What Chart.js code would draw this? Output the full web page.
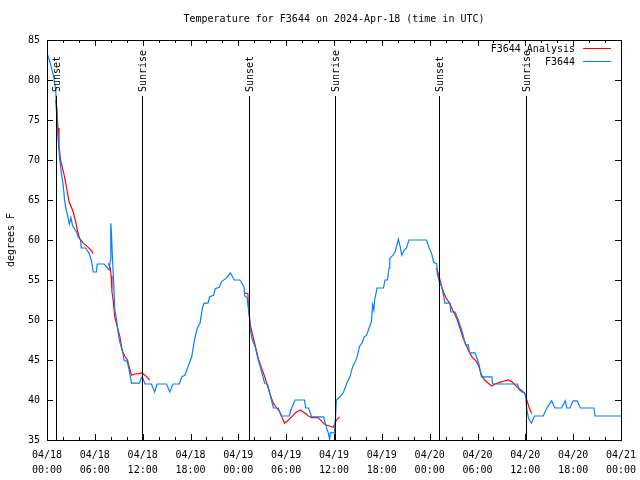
<!DOCTYPE html>
<html>
<head>
<meta charset="utf-8">
<title>Temperature for F3644</title>
<script src="https://cdn.jsdelivr.net/npm/chart.js@4.4.1/dist/chart.umd.min.js"></script>
<style>
  html, body { margin: 0; padding: 0; background: #fff; }
  canvas { display: block; }
</style>
</head>
<body>
<canvas id="tempChart" width="640" height="480"></canvas>
<script>
// hours since 04/18 00:00 UTC
const obsHours = [0.1, 0.46, 0.8, 1.1, 1.17, 1.25, 1.38, 1.46, 1.6, 1.8, 2.05, 2.2, 2.4, 2.6, 2.8, 3.0, 3.2, 3.7, 3.9, 4.2, 4.3, 4.85, 5.3, 5.6, 5.8, 6.2, 6.3, 7.15, 7.6, 7.8, 7.95,
  8.0, 8.08, 8.2, 8.35, 8.5, 8.74, 8.95, 9.16, 9.45, 9.66, 10.07, 10.3, 10.6, 11.6, 11.8, 11.95, 12.3, 13.1, 13.5, 13.8, 15.0, 15.4, 15.8, 16.6, 16.9, 17.3, 17.7, 18.15, 18.5, 18.85,
  19.2, 19.5, 19.7, 20.2, 20.4, 20.9, 21.1, 21.6, 21.9, 22.45, 23.0, 23.5, 24.2, 24.7, 24.8, 25.1, 25.25, 25.4, 25.5, 25.75, 26.1, 26.5, 26.8, 27.3, 27.7, 28.1, 28.4, 29.0, 29.4,
  30.4, 30.6, 31.1, 32.3, 32.45, 32.8, 33.2, 34.7, 34.9, 35.3, 35.45, 35.55, 36.05, 36.2, 36.3, 36.75, 37.2, 37.6, 38.0, 38.35, 38.85, 39.2, 39.5, 39.8, 40.1, 40.4, 40.7, 40.85,
  41.0, 41.1, 41.4, 42.2, 42.4, 42.7, 42.9, 43.0, 43.4, 43.65, 43.9, 44.07, 44.3, 44.5, 44.8, 45.1, 45.4, 47.6, 47.95, 48.25, 48.5, 48.9, 48.95, 49.2, 49.5, 49.7, 49.9, 50.55,
  50.65, 51.2, 51.6, 52.0, 52.2, 52.5, 52.85, 53.0, 53.7, 54.0, 54.2, 54.5, 55.8, 55.9, 59.0, 59.25, 59.55, 59.9, 60.05, 60.2, 60.4, 60.75, 61.15, 62.25, 62.7, 63.3, 63.7,
  64.55, 65.0, 65.2, 65.6, 66.0, 66.5, 66.9, 68.6, 68.75, 72.0];
const obsTemps = [83.1, 81.9, 80.6, 78.75, 76.7, 74.6, 72.9, 71.7, 70, 68.4, 66.7, 65, 63.75, 63.0, 62.0, 62.8, 61.8, 61, 60.4, 60, 59, 59, 58.3, 57.3, 56, 56, 57, 57, 56.5, 56.25, 57.5,
  62.1, 61.0, 58.0, 55.0, 51.3, 50, 48.3, 47.1, 46.25, 45, 44.8, 43.75, 42.1, 42.1, 42.7, 42.9, 42, 42, 41, 42, 42, 41, 42, 42, 42.9, 43.1, 44.2, 45.4, 47.5, 49,
  49.6, 51.5, 52.1, 52.1, 52.9, 53.1, 53.9, 54.1, 54.8, 55.2, 55.9, 55, 55, 54.2, 53, 52.8, 51.5, 50.4, 48.75, 47.5, 46.7, 45, 44, 42.1, 41.9, 40.2, 39, 39, 38,
  38, 38.75, 40, 40, 39, 39, 37.9, 37.9, 37.1, 35.8, 35.1, 35.9, 35.9, 38, 40, 40.4, 41, 42.1, 42.9, 44.2, 45.2, 46.7, 47.1, 47.9, 48.1, 49, 49.8, 51.9,
  51.25, 52.5, 54, 54, 55, 55, 56.5, 57.7, 58.1, 58.5, 59.4, 60.1, 59.2, 58.1, 58.75, 59, 60, 60, 59, 58.3, 57.2, 57, 55.8, 54.8, 54.2, 53.3, 52.1, 52.1,
  51, 51, 50, 48.75, 48.1, 46.9, 46.9, 45.9, 45.9, 45, 44.4, 42.9, 42.9, 42, 42, 41.25, 41, 40.9, 40.4, 38.75, 37.7, 37.1, 38, 38, 39, 39.9, 39,
  39, 39.9, 39, 39, 39.9, 39.9, 39, 39, 38, 38];

// analysis runs, null = gap between runs
const anaHours = [1.1, 1.3, 1.38, 1.5, 1.7, 1.9, 2.2, 2.5, 2.76, 3.2, 3.6, 3.8, 4.1, 4.55, 5.05, 5.5, 5.8, 6.7,
  7.7, 7.95, 8.05, 8.15, 8.3, 8.5, 8.8, 9.15, 9.4, 9.8, 10.1, 10.3, 10.6, 11.05, 11.5, 11.9, 12.3, 12.7, 12.9, 18.0,
  24.8, 25.2, 25.25, 25.5, 25.7, 26.1, 26.5, 26.9, 27.25, 27.55, 27.95, 28.4, 28.8, 29.2, 29.45, 29.8, 30.3, 30.9, 31.3, 31.8,
  32.4, 32.8, 33.2, 34.0, 34.5, 34.9, 35.4, 35.9, 36.1, 36.3, 36.7, 42.0,
  48.8, 48.95, 49.2, 49.5, 49.8, 50.1, 50.5, 51.0, 51.4, 51.8, 52.2, 52.85, 53.3, 53.8, 54.1, 54.5, 54.9, 55.35, 55.8, 56.2,
  56.8, 57.45, 57.85, 58.3, 58.7, 59.1, 59.55, 59.95, 60.25, 60.5, 60.8];
const anaTemps = [77.5, 75.2, 74, 71.9, 70, 69.2, 67.9, 66.25, 64.8, 63.75, 62.3, 61.25, 60.2, 59.6, 59.2, 58.75, 58.3, null,
  57.1, 56.4, 55.5, 53.5, 52.5, 50.4, 49.2, 47.9, 46.25, 45.4, 45, 44.2, 43.1, 43.25, 43.3, 43.4, 43.1, 42.7, 42.5, null,
  53.4, 53.3, 51.9, 49.4, 48.5, 46.9, 45.2, 44, 43.1, 42.1, 40.8, 39.6, 39, 38.5, 37.9, 37.1, 37.5, 38.1, 38.5, 38.75,
  38.3, 38, 37.8, 37.8, 37.3, 36.9, 36.75, 36.6, 37, 37.5, 37.9, null,
  56.5, 56.25, 55.4, 54.2, 53.3, 52.7, 52.1, 51, 50.2, 49, 47.7, 46.25, 45.4, 44.9, 44.4, 43.1, 42.5, 42.1, 41.75, 42,
  42.2, 42.4, 42.5, 42.3, 41.9, 41.5, 41.2, 40.8, 39.8, 39, 38.3];

const sunsetHours = [1.13, 25.3, 49.2];
const sunriseHours = [11.95, 36.1, 60.1];

const xTickDates = ['04/18', '04/18', '04/18', '04/18', '04/19', '04/19', '04/19', '04/19', '04/20', '04/20', '04/20', '04/20', '04/21'];
const xTickTimes = ['00:00', '06:00', '12:00', '18:00', '00:00', '06:00', '12:00', '18:00', '00:00', '06:00', '12:00', '18:00', '00:00'];

const titleText = 'Temperature for F3644 on 2024-Apr-18 (time in UTC)';
const yLabel = 'degrees F';
const seriesNames = ['F3644 Analysis', 'F3644'];
const seriesColors = ['#ff0000', '#0080ff'];

const FONT = "10px 'DejaVu Sans Mono', monospace";

// gnuplot-like frame, inward ticks, sun lines, legend and titles
const gnuplotFrame = {
  id: 'gnuplotFrame',
  afterDatasetsDraw(chart) {
    const { ctx, chartArea: a, scales: { x, y } } = chart;
    const px = v => Math.round(v) + 0.5;
    ctx.save();
    ctx.strokeStyle = '#000';
    ctx.fillStyle = '#000';
    ctx.lineWidth = 1;
    ctx.font = FONT;

    // sunrise / sunset markers
    const marks = sunsetHours.map(h => [h, 'Sunset']).concat(sunriseHours.map(h => [h, 'Sunrise']));
    marks.forEach(([h, name]) => {
      const xp = px(x.getPixelForValue(h));
      ctx.beginPath();
      ctx.moveTo(xp, 96);
      ctx.lineTo(xp, a.bottom);
      ctx.stroke();
      ctx.save();
      ctx.translate(xp + 1, 92);
      ctx.rotate(-Math.PI / 2);
      ctx.textAlign = 'left';
      ctx.textBaseline = 'middle';
      ctx.fillText(name, 0, 0);
      ctx.restore();
    });

    // frame
    ctx.strokeRect(px(a.left), px(a.top), Math.round(a.right - a.left), Math.round(a.bottom - a.top));

    // x ticks: major every 6h, minor every 2h
    ctx.beginPath();
    for (let h = 2; h < 72; h += 2) {
      const len = h % 6 === 0 ? 6 : 3;
      const xp = px(x.getPixelForValue(h));
      ctx.moveTo(xp, a.bottom); ctx.lineTo(xp, a.bottom - len);
      ctx.moveTo(xp, a.top); ctx.lineTo(xp, a.top + len);
    }
    for (let v = 40; v < 85; v += 5) {
      const yp = px(y.getPixelForValue(v));
      ctx.moveTo(a.left, yp); ctx.lineTo(a.left + 6, yp);
      ctx.moveTo(a.right, yp); ctx.lineTo(a.right - 6, yp);
    }
    ctx.stroke();

    // legend
    ctx.textAlign = 'right';
    ctx.textBaseline = 'middle';
    seriesNames.forEach((name, i) => {
      const yy = 49 + i * 13;
      ctx.fillStyle = '#000';
      ctx.fillText(name, 575, yy);
      ctx.strokeStyle = seriesColors[i];
      ctx.beginPath();
      ctx.moveTo(583, px(yy - 1));
      ctx.lineTo(611, px(yy - 1));
      ctx.stroke();
    });

    // title and y axis label
    ctx.fillStyle = '#000';
    ctx.textAlign = 'center';
    ctx.fillText(titleText, (a.left + a.right) / 2, 19);
    ctx.save();
    ctx.translate(11, (a.top + a.bottom) / 2);
    ctx.rotate(-Math.PI / 2);
    ctx.fillText(yLabel, 0, 0);
    ctx.restore();
    ctx.restore();
  }
};

Chart.defaults.font.family = "'DejaVu Sans Mono', monospace";
Chart.defaults.font.size = 10;
Chart.defaults.color = '#000';

const ctx = document.getElementById('tempChart').getContext('2d');
new Chart(ctx, {
  type: 'line',
  data: {
    datasets: [{
      label: seriesNames[0],
      data: anaHours.map((h, i) => ({ x: h, y: anaTemps[i] })),
      borderColor: seriesColors[0],
      borderWidth: 1.2,
      pointRadius: 0,
      tension: 0,
      spanGaps: false,
      order: 1
    }, {
      label: seriesNames[1],
      data: obsHours.map((h, i) => ({ x: h, y: obsTemps[i] })),
      borderColor: seriesColors[1],
      borderWidth: 1.2,
      pointRadius: 0,
      tension: 0,
      order: 0
    }]
  },
  options: {
    responsive: false,
    animation: false,
    events: [],
    layout: { padding: { top: 40, right: 19, left: 0, bottom: 0 } },
    plugins: {
      legend: { display: false },
      tooltip: { enabled: false }
    },
    scales: {
      x: {
        type: 'linear',
        min: 0,
        max: 72,
        grid: { display: false, drawTicks: false },
        border: { display: false },
        afterFit: s => { s.height = 40; s.paddingLeft = 0; s.paddingRight = 0; },
        ticks: {
          stepSize: 6,
          autoSkip: false,
          maxRotation: 0,
          padding: 8,
          font: { lineHeight: 1.5 },
          callback: v => [xTickDates[v / 6], xTickTimes[v / 6]]
        }
      },
      y: {
        min: 35,
        max: 85,
        grid: { display: false, drawTicks: false },
        border: { display: false },
        afterFit: s => { s.width = 47; s.paddingTop = 0; s.paddingBottom = 0; },
        ticks: {
          stepSize: 5,
          padding: 7,
          callback: v => String(v)
        }
      }
    }
  },
  plugins: [gnuplotFrame]
});
</script>
</body>
</html>
